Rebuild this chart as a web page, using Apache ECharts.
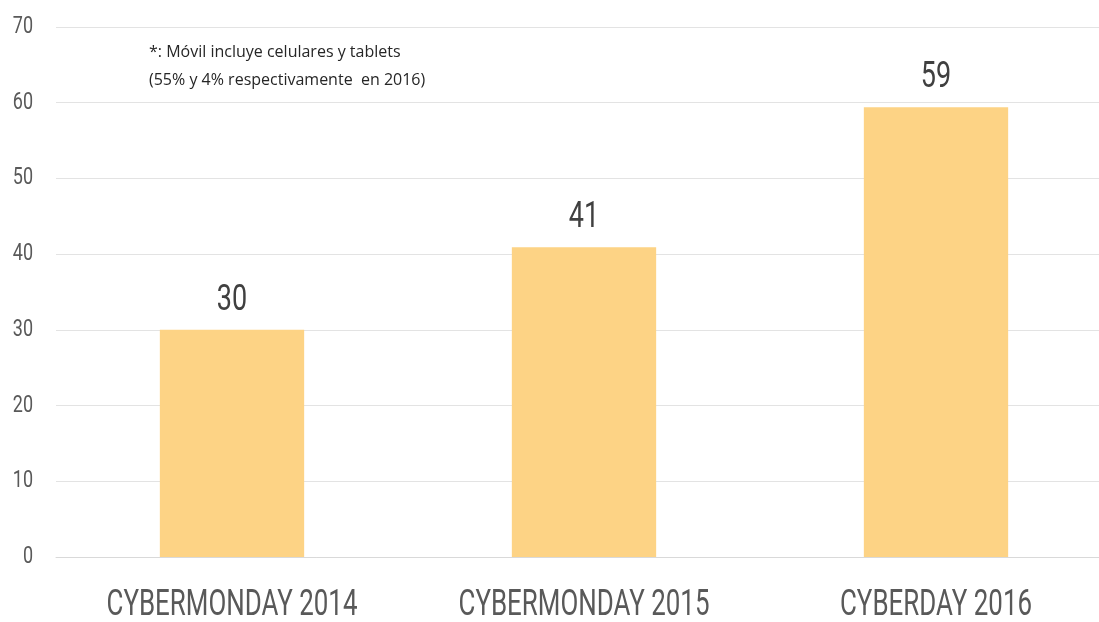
<!DOCTYPE html>
<html><head><meta charset="utf-8">
<script src="https://cdn.jsdelivr.net/npm/echarts@6/dist/echarts.min.js"></script>
<style>html,body{margin:0;padding:0;background:#fff}#c{width:1099px;height:622px}</style>
</head><body><div id="c"></div>
<script>
const categories = ['CYBERMONDAY 2014', 'CYBERMONDAY 2015', 'CYBERDAY 2016'];
const values = [30, 40.9, 59.4];
const yTicks = [0, 10, 20, 30, 40, 50, 60, 70];
const noteLines = ['*: Móvil incluye celulares y tablets', '(55% y 4% respectivamente  en 2016)'];

const narrow = "Roboto, 'Liberation Sans', sans-serif";
const chart = echarts.init(document.getElementById('c'));
chart.setOption({
  animation: false,
  backgroundColor: '#ffffff',
  grid: { left: 56, top: 27, width: 1056, height: 530, outerBoundsMode: 'none', containLabel: false },
  xAxis: {
    type: 'category',
    data: categories,
    axisLine: { show: true, lineStyle: { color: '#d9d9d9', width: 1 } },
    axisTick: { show: false },
    axisLabel: { show: false }
  },
  yAxis: {
    type: 'value',
    min: yTicks[0], max: yTicks[yTicks.length - 1], interval: 10,
    axisLine: { show: false },
    axisTick: { show: false },
    splitLine: { lineStyle: { color: '#e3e3e3', width: 1 } },
    axisLabel: { show: false }
  },
  series: [{
    type: 'bar',
    data: values,
    barWidth: '41%',
    itemStyle: { color: '#fdd385' },
    label: { show: false }
  }]
});

// Condensed-looking text placed through the library's own scales
const g = [{
  type: 'text', left: 149, top: 38,
  style: { text: noteLines.join('\n'), fill: '#262626', font: "16px 'Open Sans', sans-serif", lineHeight: 28 }
}];
yTicks.forEach(t => {
  const p = chart.convertToPixel({ gridIndex: 0 }, [0, t]);
  g.push({ type: 'text', x: 33, y: p[1], scaleX: 0.75,
    style: { text: String(t), align: 'right', verticalAlign: 'middle', fill: '#595959', font: '24px ' + narrow } });
});
categories.forEach((c, i) => {
  const base = chart.convertToPixel({ gridIndex: 0 }, [i, 0]);
  const top = chart.convertToPixel({ gridIndex: 0 }, [i, values[i]]);
  g.push({ type: 'text', x: base[0], y: base[1] + 49, scaleX: 0.72,
    style: { text: c, align: 'center', verticalAlign: 'middle', fill: '#595959', font: '36px ' + narrow } });
  g.push({ type: 'text', x: top[0], y: top[1] - 29, scaleX: 0.75,
    style: { text: String(Math.round(values[i])), align: 'center', verticalAlign: 'middle', fill: '#404040', font: '36px ' + narrow } });
});
chart.setOption({ graphic: g });
</script></body></html>
